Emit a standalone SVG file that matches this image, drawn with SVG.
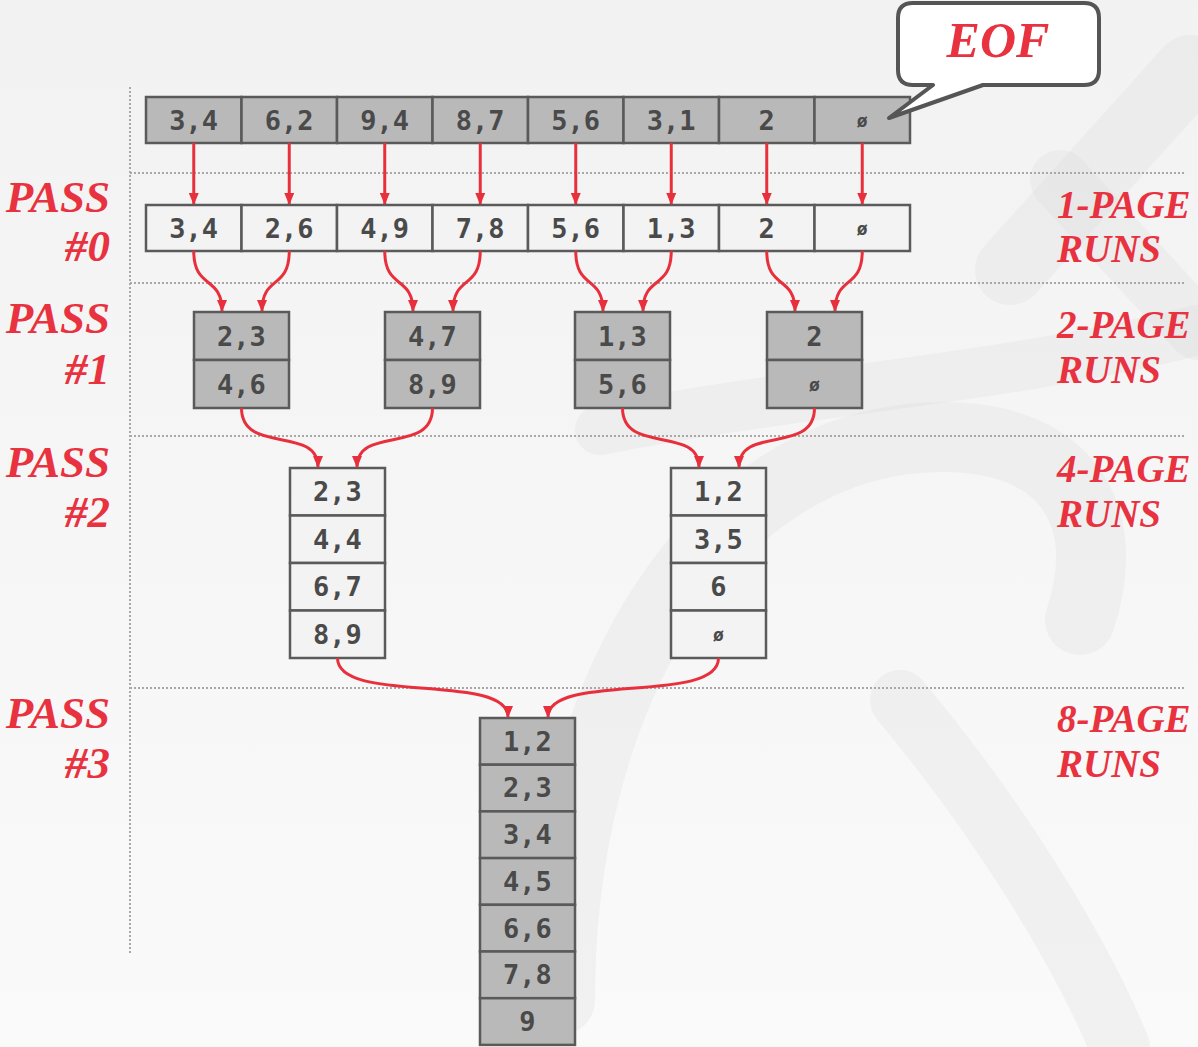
<svg xmlns="http://www.w3.org/2000/svg" width="1198" height="1047" viewBox="0 0 1198 1047">
<defs>
<linearGradient id="bg" x1="0" y1="0" x2="0" y2="1">
<stop offset="0" stop-color="#f2f2f2"/>
<stop offset="1" stop-color="#fafafa"/>
</linearGradient>
<marker id="ah" markerUnits="userSpaceOnUse" markerWidth="12" markerHeight="10" refX="11" refY="5" orient="auto">
<path d="M0,0 L12,5 L0,10 z" fill="#e8303c"/>
</marker>
<style>
.dark{fill:#b9b9b9;stroke:#5a5a5a;stroke-width:2.5}
.light{fill:#f3f3f3;stroke:#5a5a5a;stroke-width:2.5}
.v{font-family:"DejaVu Sans Mono",monospace;font-size:27px;font-weight:bold;fill:#4a4a4a;text-anchor:middle}
.e{font-size:18px}
.lab{font-family:"Liberation Serif",serif;font-style:italic;font-weight:bold;fill:#e8323f}
.pl{font-size:45px;text-anchor:end}
.rl{font-size:39px}
.dot{stroke:#a8a8a8;stroke-width:2;stroke-dasharray:2 2;fill:none}
.arr{fill:none;stroke:#e8303c;stroke-width:3;marker-end:url(#ah)}
.wm{fill:none;stroke:#dcdcdc;stroke-linecap:round;opacity:0.28}
</style>
</defs>
<rect width="1198" height="1047" fill="url(#bg)"/>
<g id="watermark">
<path class="wm" d="M1190,70 L1010,270" stroke-width="70"/>
<path class="wm" d="M1060,180 L1198,330" stroke-width="60"/>
<path class="wm" d="M560,1000 C560,700 700,470 900,440 C1050,420 1120,500 1080,620" stroke-width="70"/>
<path class="wm" d="M600,430 C800,390 1000,380 1198,330" stroke-width="50"/>
<path class="wm" d="M900,700 C1000,820 1080,950 1120,1047" stroke-width="60"/>
</g>
<g id="gridlines">
<path class="dot" d="M130,87 V955"/>
<path class="dot" d="M130,173 H1185"/>
<path class="dot" d="M130,283 H1185"/>
<path class="dot" d="M130,436 H1185"/>
<path class="dot" d="M130,688 H1185"/>
</g>
<g id="labels">
<text class="lab pl" x="110" y="212">PASS</text>
<text class="lab pl" x="110" y="261">#0</text>
<text class="lab pl" x="110" y="333">PASS</text>
<text class="lab pl" x="110" y="384">#1</text>
<text class="lab pl" x="110" y="477">PASS</text>
<text class="lab pl" x="110" y="527">#2</text>
<text class="lab pl" x="110" y="728">PASS</text>
<text class="lab pl" x="110" y="778">#3</text>
<text class="lab rl" x="1057" y="218">1-PAGE</text>
<text class="lab rl" x="1057" y="262">RUNS</text>
<text class="lab rl" x="1057" y="338">2-PAGE</text>
<text class="lab rl" x="1057" y="383">RUNS</text>
<text class="lab rl" x="1057" y="482">4-PAGE</text>
<text class="lab rl" x="1057" y="527">RUNS</text>
<text class="lab rl" x="1057" y="732">8-PAGE</text>
<text class="lab rl" x="1057" y="777">RUNS</text>
</g>
<g id="input">
<rect class="dark" x="146" y="97" width="95.5" height="46"/>
<rect class="dark" x="241.5" y="97" width="95.5" height="46"/>
<rect class="dark" x="337" y="97" width="95.5" height="46"/>
<rect class="dark" x="432.5" y="97" width="95.5" height="46"/>
<rect class="dark" x="528" y="97" width="95.5" height="46"/>
<rect class="dark" x="623.5" y="97" width="95.5" height="46"/>
<rect class="dark" x="719" y="97" width="95.5" height="46"/>
<rect class="dark" x="814.5" y="97" width="95.5" height="46"/>
<text class="v" x="193.75" y="130">3,4</text>
<text class="v" x="289.25" y="130">6,2</text>
<text class="v" x="384.75" y="130">9,4</text>
<text class="v" x="480.25" y="130">8,7</text>
<text class="v" x="575.75" y="130">5,6</text>
<text class="v" x="671.25" y="130">3,1</text>
<text class="v" x="766.75" y="130">2</text>
<text class="v e" x="862.25" y="127">ø</text>
</g>
<g id="pass0">
<rect class="light" x="146" y="205" width="95.5" height="46"/>
<rect class="light" x="241.5" y="205" width="95.5" height="46"/>
<rect class="light" x="337" y="205" width="95.5" height="46"/>
<rect class="light" x="432.5" y="205" width="95.5" height="46"/>
<rect class="light" x="528" y="205" width="95.5" height="46"/>
<rect class="light" x="623.5" y="205" width="95.5" height="46"/>
<rect class="light" x="719" y="205" width="95.5" height="46"/>
<rect class="light" x="814.5" y="205" width="95.5" height="46"/>
<text class="v" x="193.75" y="238">3,4</text>
<text class="v" x="289.25" y="238">2,6</text>
<text class="v" x="384.75" y="238">4,9</text>
<text class="v" x="480.25" y="238">7,8</text>
<text class="v" x="575.75" y="238">5,6</text>
<text class="v" x="671.25" y="238">1,3</text>
<text class="v" x="766.75" y="238">2</text>
<text class="v e" x="862.25" y="235">ø</text>
</g>
<g id="pass1-run1">
<rect class="dark" x="194" y="312" width="95" height="48"/>
<rect class="dark" x="194" y="360" width="95" height="48"/>
<text class="v" x="241.5" y="346">2,3</text>
<text class="v" x="241.5" y="394">4,6</text>
</g>
<g id="pass1-run2">
<rect class="dark" x="385" y="312" width="95" height="48"/>
<rect class="dark" x="385" y="360" width="95" height="48"/>
<text class="v" x="432.5" y="346">4,7</text>
<text class="v" x="432.5" y="394">8,9</text>
</g>
<g id="pass1-run3">
<rect class="dark" x="575" y="312" width="95" height="48"/>
<rect class="dark" x="575" y="360" width="95" height="48"/>
<text class="v" x="622.5" y="346">1,3</text>
<text class="v" x="622.5" y="394">5,6</text>
</g>
<g id="pass1-run4">
<rect class="dark" x="767" y="312" width="95" height="48"/>
<rect class="dark" x="767" y="360" width="95" height="48"/>
<text class="v" x="814.5" y="346">2</text>
<text class="v e" x="814.5" y="391">ø</text>
</g>
<g id="pass2-run1">
<rect class="light" x="290" y="468" width="95" height="47.5"/>
<rect class="light" x="290" y="515.5" width="95" height="47.5"/>
<rect class="light" x="290" y="563" width="95" height="47.5"/>
<rect class="light" x="290" y="610.5" width="95" height="47.5"/>
<text class="v" x="337.5" y="501">2,3</text>
<text class="v" x="337.5" y="549">4,4</text>
<text class="v" x="337.5" y="596">6,7</text>
<text class="v" x="337.5" y="644">8,9</text>
</g>
<g id="pass2-run2">
<rect class="light" x="671" y="468" width="95" height="47.5"/>
<rect class="light" x="671" y="515.5" width="95" height="47.5"/>
<rect class="light" x="671" y="563" width="95" height="47.5"/>
<rect class="light" x="671" y="610.5" width="95" height="47.5"/>
<text class="v" x="718.5" y="501">1,2</text>
<text class="v" x="718.5" y="549">3,5</text>
<text class="v" x="718.5" y="596">6</text>
<text class="v e" x="718.5" y="641">ø</text>
</g>
<g id="pass3-run">
<rect class="dark" x="480" y="718" width="95" height="46.7"/>
<rect class="dark" x="480" y="764.7" width="95" height="46.7"/>
<rect class="dark" x="480" y="811.4" width="95" height="46.7"/>
<rect class="dark" x="480" y="858.1" width="95" height="46.7"/>
<rect class="dark" x="480" y="904.8" width="95" height="46.7"/>
<rect class="dark" x="480" y="951.5" width="95" height="46.7"/>
<rect class="dark" x="480" y="998.2" width="95" height="46.7"/>
<text class="v" x="527.5" y="751">1,2</text>
<text class="v" x="527.5" y="797">2,3</text>
<text class="v" x="527.5" y="844">3,4</text>
<text class="v" x="527.5" y="891">4,5</text>
<text class="v" x="527.5" y="938">6,6</text>
<text class="v" x="527.5" y="984">7,8</text>
<text class="v" x="527.5" y="1031">9</text>
</g>
<g id="eof-callout">
<path d="M913,3 H1084 Q1099,3 1099,18 V70 Q1099,85 1084,85 H983 L889,118 L933,85 H913 Q898,85 898,70 V18 Q898,3 913,3 Z" fill="#ffffff" stroke="#555555" stroke-width="4" stroke-linejoin="round"/>
<text class="lab" x="998" y="57" font-size="50" text-anchor="middle">EOF</text>
</g>
<g id="connectors">
<path class="arr" d="M193.75,143 V204"/>
<path class="arr" d="M289.25,143 V204"/>
<path class="arr" d="M384.75,143 V204"/>
<path class="arr" d="M480.25,143 V204"/>
<path class="arr" d="M575.75,143 V204"/>
<path class="arr" d="M671.25,143 V204"/>
<path class="arr" d="M766.75,143 V204"/>
<path class="arr" d="M862.25,143 V204"/>
<path class="arr" d="M193.75,251 C193.75,290 222,275 222,311"/>
<path class="arr" d="M289.25,251 C289.25,290 262,275 262,311"/>
<path class="arr" d="M384.75,251 C384.75,290 413,275 413,311"/>
<path class="arr" d="M480.25,251 C480.25,290 453,275 453,311"/>
<path class="arr" d="M575.75,251 C575.75,290 603,275 603,311"/>
<path class="arr" d="M671.25,251 C671.25,290 643,275 643,311"/>
<path class="arr" d="M766.75,251 C766.75,290 795,275 795,311"/>
<path class="arr" d="M862.25,251 C862.25,290 835,275 835,311"/>
<path class="arr" d="M241.5,408 C241.5,455 318,425 318,467"/>
<path class="arr" d="M432.5,408 C432.5,455 357,425 357,467"/>
<path class="arr" d="M622.5,408 C622.5,455 699,425 699,467"/>
<path class="arr" d="M814.5,408 C814.5,455 739,425 739,467"/>
<path class="arr" d="M337.5,658 C337.5,705 508,672 508,717"/>
<path class="arr" d="M718.5,658 C718.5,705 548,672 548,717"/>
</g>
</svg>
